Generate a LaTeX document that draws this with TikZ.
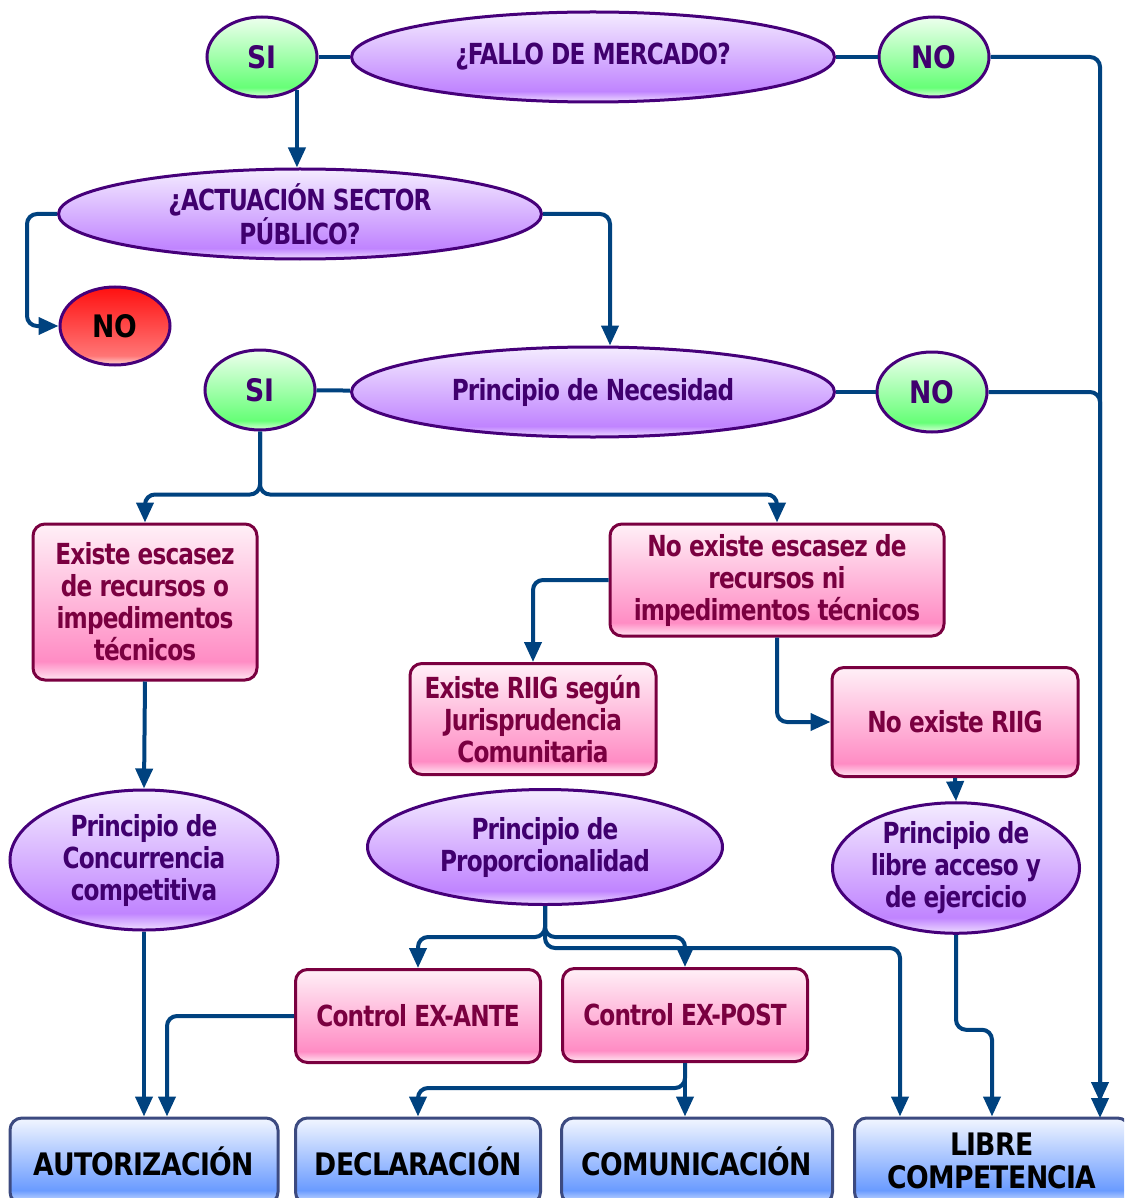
\documentclass[tikz,border=0pt]{standalone}
\usepackage{fontspec}
\setmainfont{DejaVu Sans}[FakeStretch=0.8,LetterSpace=-3]
\newfontfamily\negra{DejaVu Sans}[FakeStretch=0.86,LetterSpace=-2]
\usetikzlibrary{shapes.geometric,arrows.meta}

\definecolor{linea}{HTML}{00427F}
\definecolor{borde}{HTML}{46007A}
\definecolor{txt}{HTML}{40006E}
\definecolor{lilaT}{HTML}{F4ECFF}
\definecolor{lilaM}{HTML}{C084FF}
\definecolor{lilaB}{HTML}{EEDDFF}
\definecolor{verT}{HTML}{EEFFEE}
\definecolor{verM}{HTML}{66FF77}
\definecolor{verB}{HTML}{DDFFDD}
\definecolor{rojT}{HTML}{FF1010}
\definecolor{rojM}{HTML}{FF7575}
\definecolor{rojB}{HTML}{FFD6D6}
\definecolor{rosT}{HTML}{FFF0F7}
\definecolor{rosM}{HTML}{FF8CC4}
\definecolor{rosB}{HTML}{FFE6F2}
\definecolor{rosBorde}{HTML}{7A0040}
\definecolor{azT}{HTML}{F2F6FF}
\definecolor{azM}{HTML}{6A9BFF}
\definecolor{azB}{HTML}{DDE8FF}
\definecolor{azBorde}{HTML}{3C4A80}

\pgfdeclareverticalshading{lila}{100bp}{color(0bp)=(lilaB); color(25bp)=(lilaB); color(31bp)=(lilaM); color(75bp)=(lilaT); color(100bp)=(lilaT)}
\pgfdeclareverticalshading{verde}{100bp}{color(0bp)=(verB); color(25bp)=(verB); color(31bp)=(verM); color(75bp)=(verT); color(100bp)=(verT)}
\pgfdeclareverticalshading{rojo}{100bp}{color(0bp)=(rojB); color(25bp)=(rojB); color(31bp)=(rojM); color(75bp)=(rojT); color(100bp)=(rojT)}
\pgfdeclareverticalshading{rosa}{100bp}{color(0bp)=(rosB); color(25bp)=(rosB); color(31bp)=(rosM); color(75bp)=(rosT); color(100bp)=(rosT)}
\pgfdeclareverticalshading{azul}{100bp}{color(0bp)=(azB); color(25bp)=(azB); color(33bp)=(azM); color(75bp)=(azT); color(100bp)=(azT)}

\tikzset{
  every node/.style={font=\bfseries\fontsize{29}{32}\selectfont, align=center, inner sep=0pt},
  elip/.style={ellipse, draw=borde, line width=3pt, shading=lila, text=txt},
  sino/.style={ellipse, draw=borde, line width=3pt, shading=verde, text=txt,
    minimum width=110pt, minimum height=80pt, font=\negra\bfseries\fontsize{31}{34}\selectfont},
  caja/.style={rectangle, rounded corners=12pt, draw=rosBorde, line width=3pt,
    shading=rosa, text=rosBorde},
  fin/.style={rectangle, rounded corners=12pt, draw=azBorde, line width=3pt,
    shading=azul, text=black, minimum height=86pt,
    font=\negra\bfseries\fontsize{31}{33}\selectfont},
  con/.style={draw=linea, line width=4pt, rounded corners=10pt},
  flecha/.style={con, -{Triangle[width=17pt,length=20pt]}}
}

\begin{document}
\begin{tikzpicture}[x=1pt,y=-1pt]
  \clip (0,0) rectangle (1124,1198);

  % preguntas
  \node[sino] (si1) at (262,57) {SI};
  \node[elip, minimum width=483pt, minimum height=90pt] (fallo) at (593,57) {¿FALLO DE MERCADO?};
  \node[sino] (no1) at (934,57) {NO};
  \node[elip, minimum width=483pt, minimum height=90pt] (actua) at (300,214) {¿ACTUACIÓN SECTOR\\PÚBLICO?};
  \node[sino, shading=rojo, text=black, minimum height=78pt] (nor) at (115,326) {NO};
  \node[sino] (si2) at (260,390) {SI};
  \node[elip, minimum width=483pt, minimum height=90pt] (nec) at (593,392) {Principio de Necesidad};
  \node[sino] (no2) at (932,392) {NO};

  % supuestos
  \node[caja, minimum width=224pt, minimum height=156pt] (esc) at (145,602) {Existe escasez\\de recursos o\\impedimentos\\técnicos};
  \node[caja, minimum width=334pt, minimum height=112pt] (noesc) at (777,580) {No existe escasez de\\recursos ni\\impedimentos técnicos};
  \node[caja, minimum width=246pt, minimum height=111pt] (riig) at (533,719) {Existe RIIG según\\Jurisprudencia\\Comunitaria};
  \node[caja, minimum width=246pt, minimum height=109pt] (noriig) at (955,722) {No existe RIIG};

  % principios
  \node[elip, minimum width=268pt, minimum height=140pt] (conc) at (144,860) {Principio de\\Concurrencia\\competitiva};
  \node[elip, minimum width=355pt, minimum height=115pt] (prop) at (545,847) {Principio de\\Proporcionalidad};
  \node[elip, minimum width=247pt, minimum height=113pt] (libacc) at (956,868) {Principio de\\libre acceso y\\de ejercicio};

  % controles
  \node[caja, minimum width=245pt, minimum height=93pt] (exante) at (418,1016) {Control EX-ANTE};
  \node[caja, minimum width=245pt, minimum height=93pt] (expost) at (685,1015) {Control EX-POST};

  % regimenes
  \node[fin, minimum width=268pt] (aut) at (144,1161) {AUTORIZACIÓN};
  \node[fin, minimum width=245pt] (dec) at (418,1161) {DECLARACIÓN};
  \node[fin, minimum width=271pt] (com) at (697,1161) {COMUNICACIÓN};
  \node[fin, minimum width=275pt] (lib) at (992,1161) {LIBRE\\COMPETENCIA};

  \coordinate (b1) at (1100,1118);

  \foreach \a/\b in {si1/fallo, fallo/no1, si2/nec, nec/no2}
    \path[con] (\a) -- (\b);

  \draw[flecha, shorten >=16pt] (no1.east) -| (b1);
  \draw[flecha] (no2.east) -| (b1);
  \draw[flecha] (si1.317) -- (si1.317 |- actua.north);
  \draw[flecha] (actua.west) -- ++(-30,0) |- (nor.west);
  \draw[flecha] (actua.east) -| ([xshift=17pt]nec.north);
  \draw[flecha] (si2.south) -- ++(0,63) -| (esc.north);
  \draw[flecha] (si2.south) -- ++(0,63) -| (noesc.north);
  \draw[flecha] (noesc.west) -| (riig.north);
  \draw[flecha] (noesc.south) |- (noriig.west);
  \draw[flecha] (noriig.south) -- (libacc.north);
  \draw[flecha] (esc.south) -- (conc.north);
  \draw[flecha] (conc.south) -- (conc.south |- aut.north);
  \draw[flecha] (prop.south) -- ++(0,31) -| (exante.north);
  \draw[flecha] (prop.south) -- ++(0,31) -| (expost.north);
  \draw[flecha] (prop.south) -- ++(0,42) -| ([xshift=-92pt]lib.north);
  \draw[flecha] (libacc.south) -- ++(0,95) -| (lib.north);
  \draw[flecha] (exante.west) -| ([xshift=23pt]aut.north);
  \draw[flecha] (expost.south) -- (expost.south |- com.north);
  \draw[flecha] (expost.south) -- ++(0,25) -| (dec.north);
\end{tikzpicture}
\end{document}
